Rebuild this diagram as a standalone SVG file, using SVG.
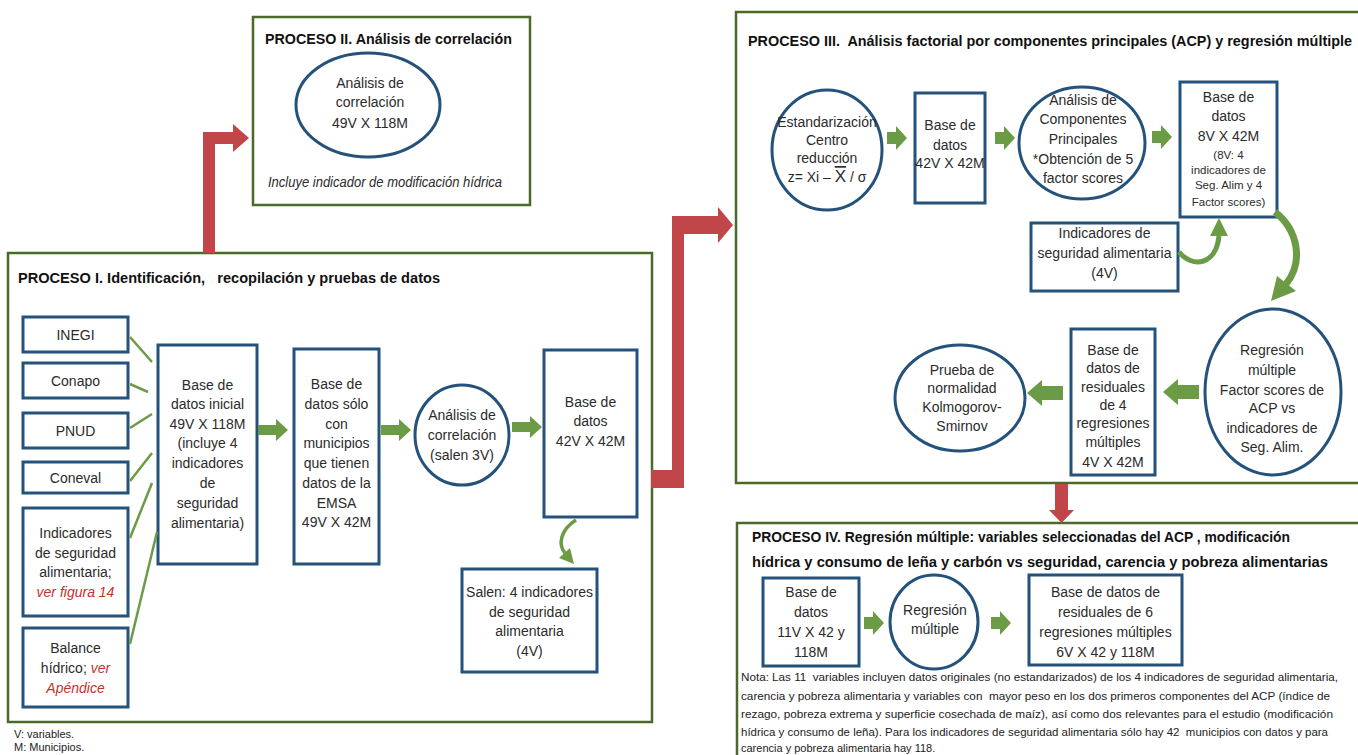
<svg xmlns="http://www.w3.org/2000/svg" width="1358" height="755" viewBox="0 0 1358 755">
<style>
.pbox{fill:#fff;stroke:#4A6A2A;stroke-width:2.5}
.node{fill:#fff;stroke:#24527A;stroke-width:3}
.t{font-family:"Liberation Sans",Arial,sans-serif;font-size:14px;fill:#2b2b2b;text-anchor:middle}
.s{font-size:11.5px}
.ttl{font-family:"Liberation Sans",Arial,sans-serif;font-size:14.5px;font-weight:bold;fill:#111;white-space:pre}
.note{font-family:"Liberation Sans",Arial,sans-serif;font-size:11px;fill:#222;white-space:pre}
.red{fill:#C0464A}
.gl{stroke:#6B9B45;stroke-width:2.5;fill:none}
.ga{fill:#6B9B45}
.gc{stroke:#6B9B45;fill:none}
.rt{fill:#C8302C;font-style:italic}
</style>
<defs>
<path id="ar" d="M0,-5 H18 V-11 L30,0 L18,11 V5 H0 Z"/>
<path id="ar3" d="M0,-6 H9 V-12 L20,0 L9,12 V6 H0 Z"/>
<path id="al" d="M0,0 L15,-13 V-7 H36 V7 H15 V13 Z"/>
</defs>

<!-- Process boxes -->
<g id="proceso2">
<rect class="pbox" x="253" y="17" width="277" height="188"/>
<text class="ttl" x="265" y="44" textLength="247" lengthAdjust="spacingAndGlyphs">PROCESO II. Análisis de correlación</text>
<text class="t" x="385" y="187" font-style="italic" font-size="13" textLength="234" lengthAdjust="spacingAndGlyphs">Incluye indicador de modificación hídrica</text>
</g>
<g id="proceso1">
<rect class="pbox" x="8" y="253" width="644" height="469"/>
<text class="ttl" x="18" y="283" textLength="422" lengthAdjust="spacingAndGlyphs">PROCESO I. Identificación,   recopilación y pruebas de datos</text>
</g>
<g id="proceso3">
<rect class="pbox" x="736" y="12" width="640" height="471"/>
<text class="ttl" x="748" y="46" font-size="14" textLength="604" lengthAdjust="spacingAndGlyphs">PROCESO III.  Análisis factorial por componentes principales (ACP) y regresión múltiple</text>
</g>
<g id="proceso4">
<rect class="pbox" x="737" y="523" width="640" height="250"/>
<text class="ttl" x="752" y="542" textLength="538" lengthAdjust="spacingAndGlyphs">PROCESO IV. Regresión múltiple: variables seleccionadas del ACP , modificación</text>
<text class="ttl" x="752" y="567" textLength="576" lengthAdjust="spacingAndGlyphs">hídrica y consumo de leña y carbón vs seguridad, carencia y pobreza alimentarias</text>
</g>

<!-- Process II node -->
<g id="n-corr2">
<ellipse class="node" cx="368" cy="105" rx="72" ry="52"/>
<text class="t" x="370" y="88">Análisis de</text>
<text class="t" x="370" y="107">correlación</text>
<text class="t" x="370" y="128">49V X 118M</text>
</g>

<!-- Process I nodes -->
<g id="n-inegi"><rect class="node" x="23" y="317" width="105" height="35"/><text class="t" x="75.5" y="340">INEGI</text></g>
<g id="n-conapo"><rect class="node" x="23" y="363" width="105" height="35"/><text class="t" x="75.5" y="386">Conapo</text></g>
<g id="n-pnud"><rect class="node" x="23" y="413" width="105" height="35"/><text class="t" x="75.5" y="436">PNUD</text></g>
<g id="n-coneval"><rect class="node" x="23" y="462" width="105" height="31"/><text class="t" x="75.5" y="483">Coneval</text></g>
<g id="n-indic"><rect class="node" x="23" y="508" width="105" height="108"/>
<text class="t" x="75.5" y="538">Indicadores</text>
<text class="t" x="75.5" y="558">de seguridad</text>
<text class="t" x="75.5" y="577">alimentaria;</text>
<text class="t rt" x="75.5" y="597">ver figura 14</text></g>
<g id="n-balance"><rect class="node" x="23" y="628" width="105" height="79"/>
<text class="t" x="75.5" y="653">Balance</text>
<text class="t" x="75.5" y="673">hídrico; <tspan class="rt">ver</tspan></text>
<text class="t rt" x="75.5" y="693">Apéndice</text></g>
<g id="n-base-inicial"><rect class="node" x="158" y="345" width="99" height="219"/>
<text class="t" x="207.5" y="390">Base de</text>
<text class="t" x="207.5" y="409">datos inicial</text>
<text class="t" x="207.5" y="429">49V X 118M</text>
<text class="t" x="207.5" y="448">(incluye 4</text>
<text class="t" x="207.5" y="468">indicadores</text>
<text class="t" x="207.5" y="488">de</text>
<text class="t" x="207.5" y="508">seguridad</text>
<text class="t" x="207.5" y="528">alimentaria)</text></g>
<g id="n-base-emsa"><rect class="node" x="294" y="349" width="85" height="215"/>
<text class="t" x="336.5" y="389">Base de</text>
<text class="t" x="336.5" y="409">datos sólo</text>
<text class="t" x="336.5" y="429">con</text>
<text class="t" x="336.5" y="448">municipios</text>
<text class="t" x="336.5" y="468">que tienen</text>
<text class="t" x="336.5" y="488">datos de la</text>
<text class="t" x="336.5" y="508">EMSA</text>
<text class="t" x="336.5" y="527">49V X 42M</text></g>
<g id="n-corr1"><ellipse class="node" cx="462" cy="435" rx="47" ry="50"/>
<text class="t" x="462" y="420">Análisis de</text>
<text class="t" x="462" y="440">correlación</text>
<text class="t" x="462" y="460">(salen 3V)</text></g>
<g id="n-base42"><rect class="node" x="544" y="350" width="93" height="167"/>
<text class="t" x="590.5" y="407">Base de</text>
<text class="t" x="590.5" y="426">datos</text>
<text class="t" x="590.5" y="446">42V X 42M</text></g>
<g id="n-salen"><rect class="node" x="462" y="569" width="135" height="103"/>
<text class="t" x="529.5" y="597">Salen: 4 indicadores</text>
<text class="t" x="529.5" y="617">de seguridad</text>
<text class="t" x="529.5" y="636">alimentaria</text>
<text class="t" x="529.5" y="656">(4V)</text></g>

<!-- Process III nodes -->
<g id="n-estand"><ellipse class="node" cx="827" cy="150" rx="55" ry="60"/>
<text class="t" x="827" y="127">Estandarización</text>
<text class="t" x="827" y="145">Centro</text>
<text class="t" x="827" y="163">reducción</text>
<text class="t" x="827" y="182">z= Xi – <tspan font-size="17" style="text-decoration:overline">X</tspan> / σ</text></g>
<g id="n-b42b"><rect class="node" x="915" y="93" width="70" height="110"/>
<text class="t" x="950" y="130">Base de</text>
<text class="t" x="950" y="150">datos</text>
<text class="t" x="950" y="168">42V X 42M</text></g>
<g id="n-acp"><ellipse class="node" cx="1082" cy="143" rx="63" ry="56"/>
<text class="t" x="1083" y="105">Análisis de</text>
<text class="t" x="1083" y="124">Componentes</text>
<text class="t" x="1083" y="144">Principales</text>
<text class="t" x="1083" y="164">*Obtención de 5</text>
<text class="t" x="1083" y="183">factor scores</text></g>
<g id="n-b8v"><rect class="node" x="1180" y="82" width="97" height="135"/>
<text class="t" x="1228.5" y="102">Base de</text>
<text class="t" x="1228.5" y="121">datos</text>
<text class="t" x="1228.5" y="141" font-size="15">8V X 42M</text>
<text class="t s" x="1228.5" y="159">(8V: 4</text>
<text class="t s" x="1228.5" y="174">indicadores de</text>
<text class="t s" x="1228.5" y="189">Seg. Alim y 4</text>
<text class="t s" x="1228.5" y="206">Factor scores)</text></g>
<g id="n-indic4v"><rect class="node" x="1031" y="223" width="147" height="68"/>
<text class="t" x="1104.5" y="238">Indicadores de</text>
<text class="t" x="1104.5" y="258">seguridad alimentaria</text>
<text class="t" x="1104.5" y="278">(4V)</text></g>
<g id="n-regr"><ellipse class="node" cx="1273" cy="392" rx="68" ry="83"/>
<text class="t" x="1272" y="355" font-size="15">Regresión</text>
<text class="t" x="1272" y="375" font-size="15">múltiple</text>
<text class="t" x="1272" y="395" font-size="15">Factor scores de</text>
<text class="t" x="1272" y="413" font-size="15">ACP vs</text>
<text class="t" x="1272" y="433" font-size="15">indicadores de</text>
<text class="t" x="1272" y="452" font-size="15">Seg. Alim.</text></g>
<g id="n-resid4"><rect class="node" x="1071" y="329" width="84" height="146"/>
<text class="t" x="1113" y="355">Base de</text>
<text class="t" x="1113" y="373">datos de</text>
<text class="t" x="1113" y="392">residuales</text>
<text class="t" x="1113" y="410">de 4</text>
<text class="t" x="1113" y="428">regresiones</text>
<text class="t" x="1113" y="447">múltiples</text>
<text class="t" x="1113" y="467">4V X 42M</text></g>
<g id="n-ks"><ellipse class="node" cx="960" cy="398" rx="65" ry="53"/>
<text class="t" x="962" y="375">Prueba de</text>
<text class="t" x="962" y="393">normalidad</text>
<text class="t" x="962" y="412">Kolmogorov-</text>
<text class="t" x="962" y="431">Smirnov</text></g>

<!-- Process IV nodes -->
<g id="n-b11v"><rect class="node" x="763" y="578" width="96" height="88"/>
<text class="t" x="811" y="597">Base de</text>
<text class="t" x="811" y="617">datos</text>
<text class="t" x="811" y="637">11V X 42 y</text>
<text class="t" x="811" y="657">118M</text></g>
<g id="n-regr4"><ellipse class="node" cx="934" cy="622" rx="44" ry="47"/>
<text class="t" x="935" y="615">Regresión</text>
<text class="t" x="935" y="634">múltiple</text></g>
<g id="n-resid6"><rect class="node" x="1029" y="575" width="153" height="90"/>
<text class="t" x="1105.5" y="597">Base de datos de</text>
<text class="t" x="1105.5" y="617">residuales de 6</text>
<text class="t" x="1105.5" y="637">regresiones múltiples</text>
<text class="t" x="1105.5" y="657">6V X 42 y 118M</text></g>

<!-- Notes -->
<g id="notes">
<text class="note" x="14" y="738" font-size="12">V: variables.</text>
<text class="note" x="14" y="751" font-size="12">M: Municipios.</text>
<text class="note" x="741" y="681" textLength="597" lengthAdjust="spacingAndGlyphs">Nota: Las 11  variables incluyen datos originales (no estandarizados) de los 4 indicadores de seguridad alimentaria,</text>
<text class="note" x="741" y="700" textLength="589" lengthAdjust="spacingAndGlyphs">carencia y pobreza alimentaria y variables con  mayor peso en los dos primeros componentes del ACP (índice de</text>
<text class="note" x="741" y="718" textLength="592" lengthAdjust="spacingAndGlyphs">rezago, pobreza extrema y superficie cosechada de maíz), así como dos relevantes para el estudio (modificación</text>
<text class="note" x="741" y="736" textLength="587" lengthAdjust="spacingAndGlyphs">hídrica y consumo de leña). Para los indicadores de seguridad alimentaria sólo hay 42  municipios con datos y para</text>
<text class="note" x="741" y="752">carencia y pobreza alimentaria hay 118.</text>
</g>

<!-- Connectors -->
<g id="connectors">
<polygon class="red" points="203,253 203,132 233,132 233,124 249,138 233,152 233,144 215,144 215,253"/>
<polygon class="red" points="651,470 672,470 672,216 718,216 718,207 733,225 718,243 718,234 684,234 684,488 651,488"/>
<polygon class="red" points="1055,484 1068,484 1068,510 1074,510 1061.5,523 1049,510 1055,510"/>

<line class="gl" x1="130" y1="337" x2="152" y2="362"/>
<line class="gl" x1="130" y1="384" x2="148" y2="392"/>
<line class="gl" x1="130" y1="428" x2="152" y2="414"/>
<line class="gl" x1="130" y1="481" x2="152" y2="453"/>
<line class="gl" x1="130" y1="538" x2="152" y2="483"/>
<line class="gl" x1="130" y1="644" x2="157" y2="532"/>

<use href="#ar" class="ga" x="258" y="430"/>
<use href="#ar" class="ga" x="381" y="430"/>
<use href="#ar" class="ga" x="512" y="427"/>

<path class="gc" stroke-width="3.5" d="M576,520 C560,530 558,545 565,553"/>
<polygon class="ga" points="574,564 570,548 559,558"/>

<use href="#ar3" class="ga" x="887" y="138"/>
<use href="#ar3" class="ga" x="995" y="138"/>
<use href="#ar3" class="ga" x="1152" y="137"/>

<path class="gc" stroke-width="5" d="M1179,252 C1192,268 1216,266 1219,236"/>
<polygon class="ga" points="1219,218 1228,236 1210,236"/>

<path class="gc" stroke-width="7" d="M1275,212 C1298,230 1304,262 1286,284"/>
<polygon class="ga" points="1271,301 1277,276 1296,291"/>

<use href="#al" class="ga" x="1163" y="392"/>
<use href="#al" class="ga" x="1027" y="393"/>

<use href="#ar3" class="ga" x="864" y="623"/>
<use href="#ar3" class="ga" x="991" y="623"/>
</g>
</svg>
